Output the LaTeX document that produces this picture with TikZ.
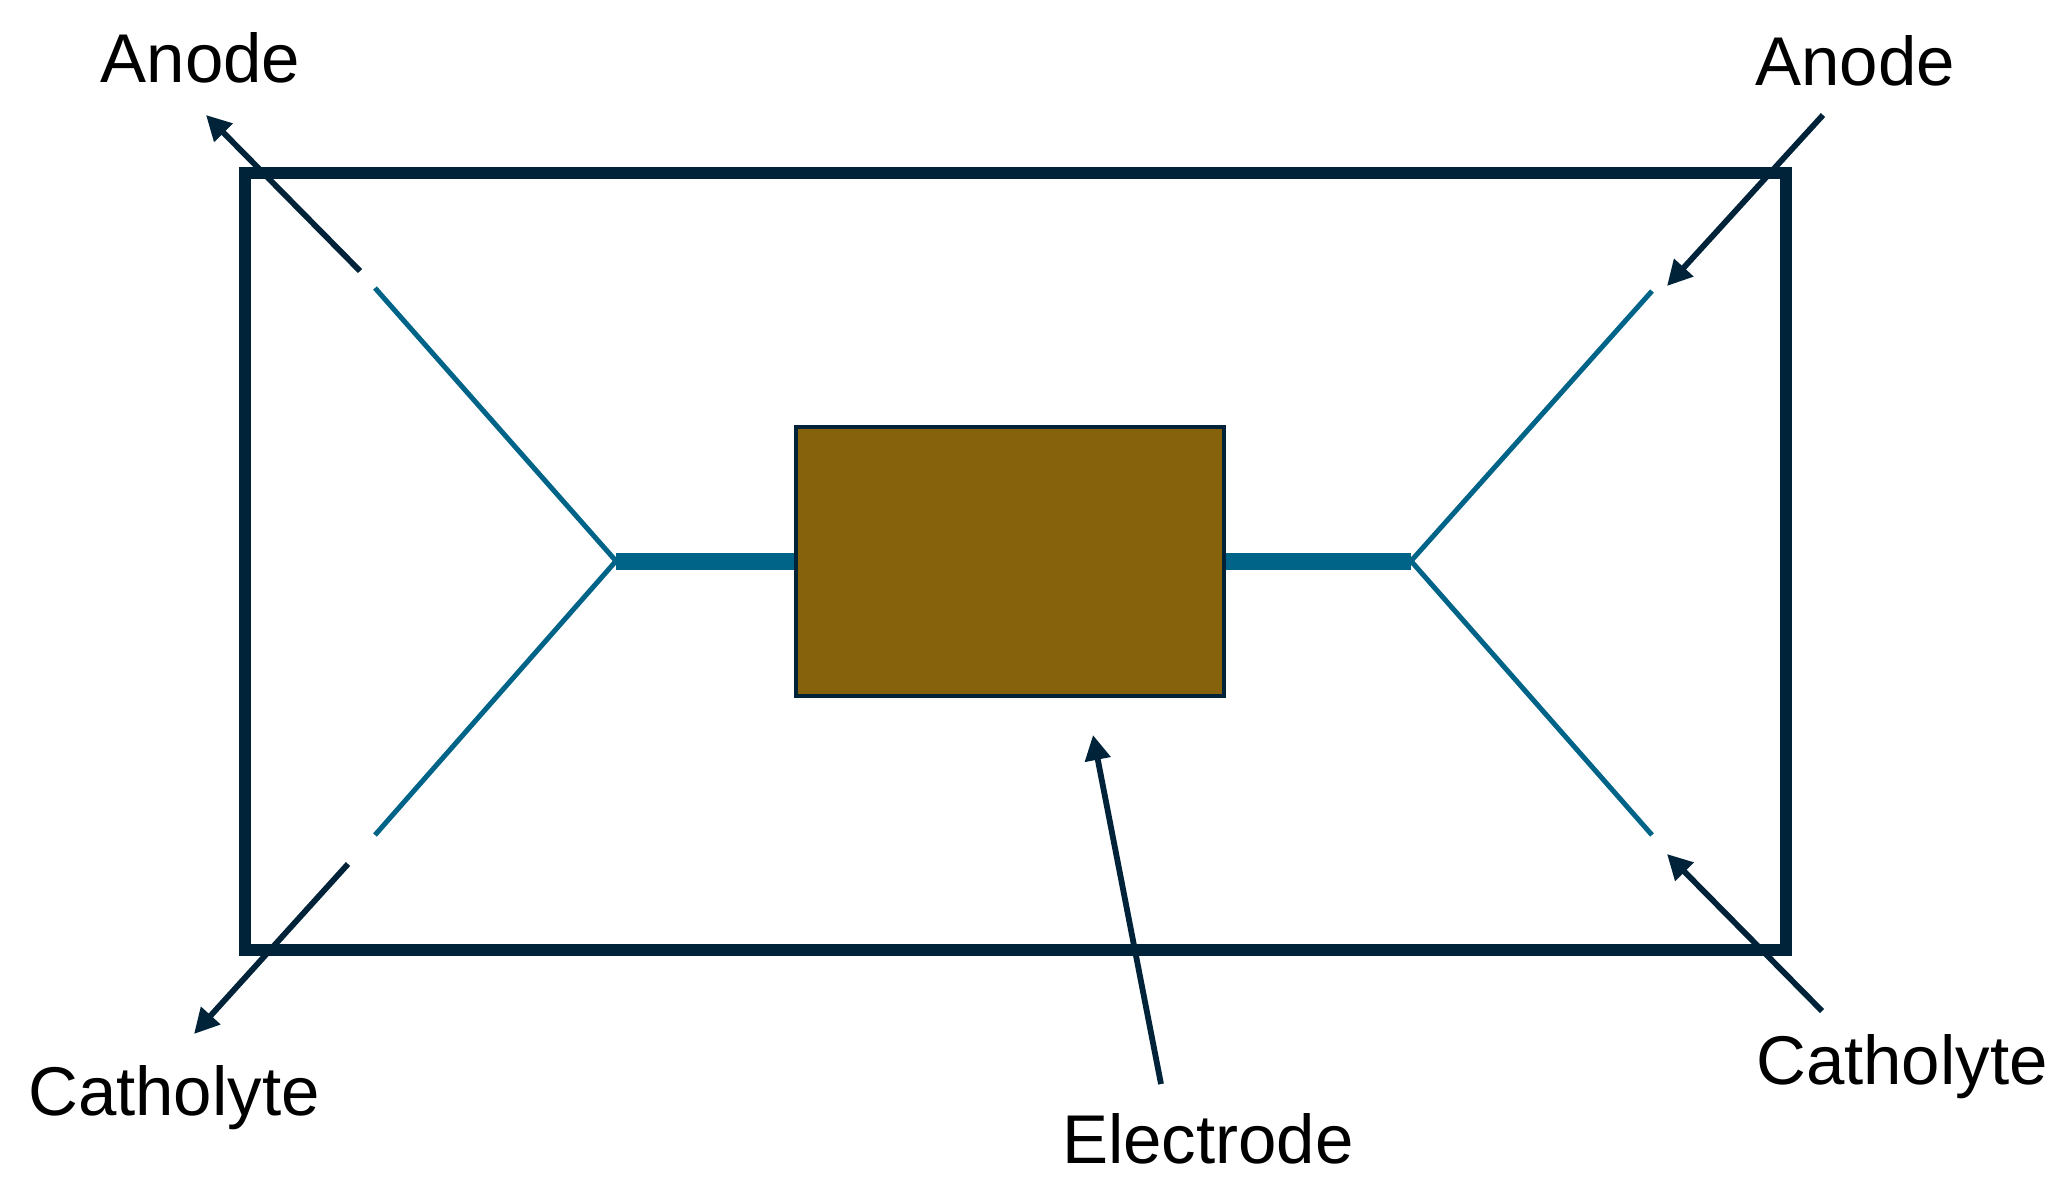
\documentclass[tikz,border=0pt]{standalone}
\usepackage{fontspec}
\setmainfont{Liberation Sans}
\usetikzlibrary{arrows.meta}
\definecolor{navy}{HTML}{002339}
\definecolor{teal2}{HTML}{006488}
\definecolor{brownfill}{HTML}{87620C}
\tikzset{
  frame/.style={draw=navy,line width=6pt},
  electrodebox/.style={draw=navy,line width=2.4pt,fill=brownfill},
  thinline/.style={draw=teal2,line width=2.5pt},
  thickline/.style={draw=teal2,line width=8.5pt},
  flow/.style={draw=navy,line width=2.9pt,-{Triangle[length=12.5pt,width=12.5pt]}},
  lab/.style={font=\fontsize{34.5}{40}\selectfont,text=black,anchor=base,inner sep=0pt}
}
\begin{document}
\begin{tikzpicture}[x=0.5pt,y=-0.5pt]
\useasboundingbox (0,0) rectangle (2068,1190);
\coordinate (fTL) at (245,173);
\coordinate (fBR) at (1786,949.5);
\coordinate (jL) at (616,561);
\coordinate (jR) at (1411,561);
\coordinate (eL) at (796,561);
\coordinate (eR) at (1224,561);
\coordinate (aTL) at (375,288);
\coordinate (aBL) at (375,835);
\coordinate (aTR) at (1652,291);
\coordinate (aBR) at (1652,835);
\coordinate (s1) at (360,271);
\coordinate (t1) at (206,115);
\coordinate (s2) at (1823,115);
\coordinate (t2) at (1667,286);
\coordinate (s3) at (348,864);
\coordinate (t3) at (194,1034);
\coordinate (s4) at (1822,1011);
\coordinate (t4) at (1667,854);
\coordinate (s5) at (1161,1084);
\coordinate (t5) at (1093,735);
\draw[thinline] (aTL) -- (jL) -- (aBL);
\draw[thinline] (aTR) -- (jR) -- (aBR);
\draw[thickline] (jL) -- (eL);
\draw[thickline] (eR) -- (jR);
\draw[electrodebox] (796,427) rectangle (1224,696);
\draw[frame] (fTL) rectangle (fBR);
\draw[flow] (s1) -- (t1);
\draw[flow] (s2) -- (t2);
\draw[flow] (s3) -- (t3);
\draw[flow] (s4) -- (t4);
\draw[flow] (s5) -- (t5);
\node[lab] (anodeL) at (200.5,82) {Anode};
\node[lab] (anodeR) at (1855,85) {Anode};
\node[lab] (cathL) at (174,1115) {Catholyte};
\node[lab] (cathR) at (1902,1084) {Catholyte};
\node[lab] (elec) at (1208,1163) {Electrode};
\end{tikzpicture}
\end{document}
